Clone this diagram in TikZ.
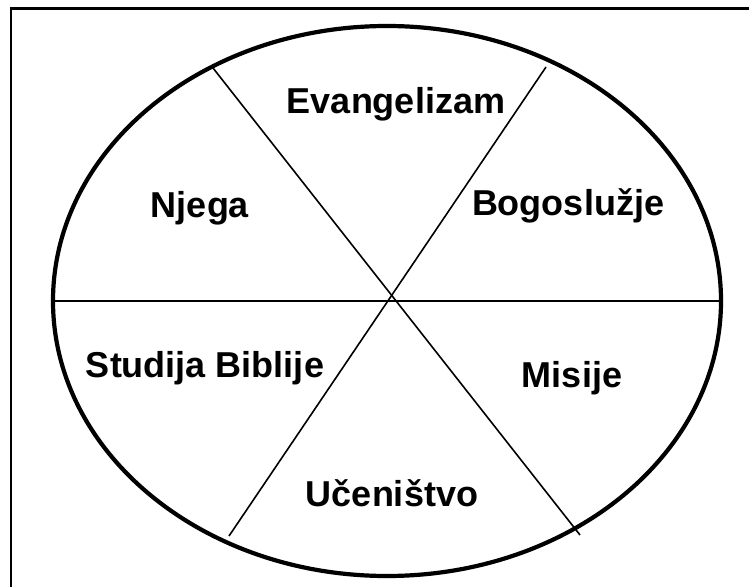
\documentclass[tikz,border=0pt]{standalone}
\usepackage{fontspec}
\setmainfont{Liberation Sans}
\begin{document}
\begin{tikzpicture}[x=1pt,y=-1pt,
  lbl/.style={font=\fontsize{36}{40}\selectfont\bfseries, inner sep=0pt, anchor=center},
  divider/.style={line width=1.6pt},
  rim/.style={line width=4.2pt},
  frame/.style={line width=2.6pt}]
\useasboundingbox (0,0) rectangle (749,586);
\clip (0,0) rectangle (749,586);
% frame (only top and left visible)
\draw[frame] (11,600) -- (11,8.5) -- (760,8.5);
% ellipse
\coordinate (c) at (387,301);
\draw[rim] (c) ellipse [x radius=334, y radius=275];
% dividers
\coordinate (hl) at (53,301);
\coordinate (hr) at (721,301);
\coordinate (ul) at (213,68);
\coordinate (lr) at (580,535);
\coordinate (ur) at (546,67);
\coordinate (ll) at (229,536);
\draw[divider] (hl) -- (hr);
\draw[divider] (ul) -- (lr);
\draw[divider] (ur) -- (ll);
% labels
\node[lbl] (evang) at (396,104) {Evangelizam};
\node[lbl] (njega) at (200,208) {Njega};
\node[lbl] (bogo) at (568,206) {Bogoslužje};
\node[lbl] (studija) at (205,368) {Studija Biblije};
\node[lbl] (misije) at (572,378) {Misije};
\node[lbl] (ucen) at (392,493) {Učeništvo};
\end{tikzpicture}
\end{document}
